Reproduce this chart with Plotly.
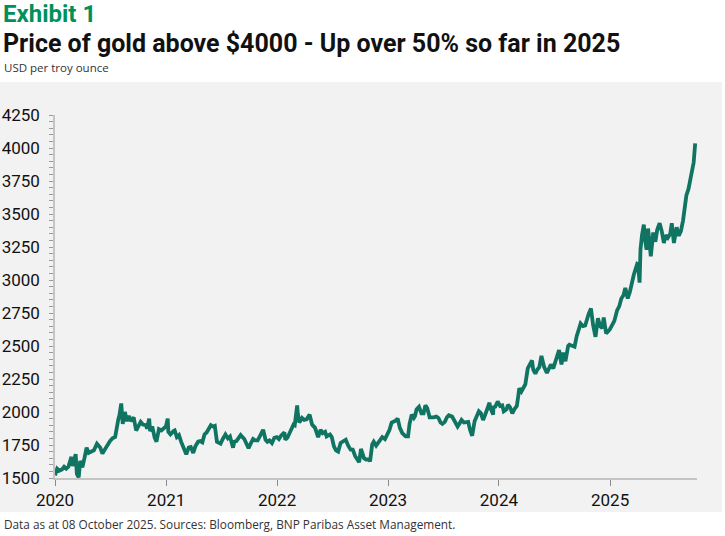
import plotly.graph_objects as go

dates = [
"2020-01-01","2020-01-08","2020-01-15","2020-01-24","2020-01-31","2020-02-07","2020-02-14","2020-02-24","2020-02-28",
"2020-03-06","2020-03-09","2020-03-13","2020-03-19","2020-03-24","2020-03-31","2020-04-07","2020-04-14","2020-04-21",
"2020-04-30","2020-05-08","2020-05-18","2020-05-29","2020-06-05","2020-06-15","2020-06-24","2020-06-30","2020-07-08",
"2020-07-17","2020-07-27","2020-07-31","2020-08-06","2020-08-11","2020-08-18","2020-08-25","2020-08-31","2020-09-08",
"2020-09-16","2020-09-24","2020-09-30","2020-10-09","2020-10-16","2020-10-26","2020-10-30","2020-11-06","2020-11-09",
"2020-11-16","2020-11-24","2020-11-30","2020-12-08","2020-12-16","2020-12-31",
"2021-01-06","2021-01-08","2021-01-15","2021-01-25","2021-01-29","2021-02-05","2021-02-12","2021-02-19","2021-02-26",
"2021-03-08","2021-03-16","2021-03-23","2021-03-31","2021-04-07","2021-04-16","2021-04-23","2021-04-30","2021-05-07",
"2021-05-14","2021-05-21","2021-05-28","2021-06-04","2021-06-10","2021-06-17","2021-06-29","2021-07-06","2021-07-15",
"2021-07-23","2021-07-30","2021-08-09","2021-08-13","2021-08-20","2021-08-27","2021-09-03","2021-09-15","2021-09-29",
"2021-10-06","2021-10-14","2021-10-21","2021-10-29","2021-11-05","2021-11-16","2021-11-24","2021-11-30","2021-12-07",
"2021-12-15","2021-12-23","2021-12-31",
"2022-01-07","2022-01-14","2022-01-25","2022-01-28","2022-02-04","2022-02-14","2022-02-24","2022-02-28","2022-03-08",
"2022-03-10","2022-03-15","2022-03-24","2022-03-31","2022-04-08","2022-04-18","2022-04-26","2022-04-29","2022-05-06",
"2022-05-16","2022-05-24","2022-05-31","2022-06-08","2022-06-13","2022-06-24","2022-06-30","2022-07-07","2022-07-14",
"2022-07-21","2022-07-29","2022-08-05","2022-08-15","2022-08-23","2022-08-31","2022-09-07","2022-09-15","2022-09-28",
"2022-10-04","2022-10-14","2022-10-21","2022-10-31","2022-11-03","2022-11-10","2022-11-15","2022-11-23","2022-11-30",
"2022-12-07","2022-12-13","2022-12-22","2022-12-30",
"2023-01-06","2023-01-13","2023-01-20","2023-01-26","2023-02-02","2023-02-09","2023-02-17","2023-02-28","2023-03-08",
"2023-03-13","2023-03-20","2023-03-27","2023-03-31","2023-04-05","2023-04-13","2023-04-21","2023-04-28","2023-05-04",
"2023-05-10","2023-05-18","2023-05-31","2023-06-09","2023-06-16","2023-06-23","2023-06-29","2023-07-07","2023-07-14",
"2023-07-20","2023-07-31","2023-08-08","2023-08-18","2023-08-25","2023-08-31","2023-09-08","2023-09-15","2023-09-22",
"2023-09-28","2023-10-05","2023-10-13","2023-10-20","2023-10-27","2023-11-03","2023-11-10","2023-11-17","2023-11-28",
"2023-12-01","2023-12-04","2023-12-13","2023-12-14","2023-12-20","2023-12-28",
"2024-01-05","2024-01-12","2024-01-17","2024-01-26","2024-01-31","2024-02-07","2024-02-14","2024-02-22","2024-02-29",
"2024-03-05","2024-03-08","2024-03-15","2024-03-21","2024-03-28","2024-04-05","2024-04-12","2024-04-19","2024-04-23",
"2024-04-30","2024-05-06","2024-05-13","2024-05-20","2024-05-29","2024-06-07","2024-06-14","2024-06-20","2024-06-28",
"2024-07-05","2024-07-17","2024-07-25","2024-07-31","2024-08-07","2024-08-16","2024-08-20","2024-08-30","2024-09-06",
"2024-09-13","2024-09-20","2024-09-26","2024-10-04","2024-10-11","2024-10-22","2024-10-30","2024-11-06","2024-11-14",
"2024-11-22","2024-11-29","2024-12-06","2024-12-11","2024-12-19","2024-12-31",
"2025-01-08","2025-01-15","2025-01-24","2025-01-31","2025-02-07","2025-02-14","2025-02-20","2025-02-28","2025-03-07",
"2025-03-14","2025-03-20","2025-03-31","2025-04-03","2025-04-08","2025-04-11","2025-04-16","2025-04-22","2025-04-25",
"2025-05-01","2025-05-06","2025-05-15","2025-05-23","2025-05-30","2025-06-05","2025-06-13","2025-06-20","2025-06-27",
"2025-07-03","2025-07-10","2025-07-18","2025-07-23","2025-07-30","2025-08-05","2025-08-08","2025-08-15","2025-08-22",
"2025-08-29","2025-09-03","2025-09-09","2025-09-16","2025-09-23","2025-09-30","2025-10-03","2025-10-08",
]

prices = [
1520,1570,1555,1565,1585,1570,1585,1660,1590,
1670,1680,1530,1505,1630,1580,1650,1730,1690,
1700,1710,1760,1730,1685,1725,1770,1780,1800,
1810,1940,1975,2065,1910,2000,1930,1970,1930,
1960,1860,1885,1925,1905,1900,1875,1950,1855,
1890,1805,1775,1870,1860,1890,
1950,1850,1830,1855,1860,1810,1825,1775,1735,
1680,1730,1735,1690,1740,1775,1780,1770,1830,
1845,1880,1900,1890,1895,1775,1760,1795,1830,
1800,1815,1730,1775,1780,1810,1825,1795,1725,
1760,1795,1785,1785,1815,1865,1790,1775,1785,
1765,1805,1810,
1795,1820,1845,1790,1805,1860,1905,1900,2050,
1990,1920,1955,1940,1945,1980,1905,1895,1880,
1810,1865,1840,1850,1815,1830,1810,1740,1710,
1700,1765,1775,1790,1745,1715,1715,1665,1620,
1720,1650,1640,1640,1625,1755,1775,1745,1770,
1785,1810,1795,1825,
1865,1920,1925,1935,1950,1880,1840,1815,1815,
1910,1980,1955,1970,2020,2040,1990,1990,2050,
2030,1960,1960,1965,1955,1920,1910,1925,1960,
1975,1965,1930,1890,1915,1940,1920,1925,1925,
1865,1820,1930,1975,2005,1990,1940,1980,2040,
2070,2030,1980,2035,2040,2080,
2045,2050,2005,2020,2055,2035,1990,2025,2045,
2125,2180,2155,2185,2210,2330,2360,2390,2320,
2290,2320,2340,2425,2340,2295,2330,2360,2330,
2390,2470,2360,2450,2385,2500,2510,2500,2495,
2575,2620,2670,2650,2655,2740,2785,2660,2570,
2710,2650,2635,2715,2595,2625,
2660,2690,2770,2800,2860,2885,2940,2860,2910,
2985,3040,3120,3115,2980,3230,3340,3420,3320,
3230,3390,3180,3360,3290,3380,3430,3370,3280,
3340,3320,3350,3430,3280,3380,3400,3335,3370,
3450,3560,3640,3690,3760,3840,3890,4035,
]

y_ticks = [1500, 1750, 2000, 2250, 2500, 2750, 3000, 3250, 3500, 3750, 4000, 4250]
x_ticks = ["2020-01-01", "2021-01-01", "2022-01-01", "2023-01-01", "2024-01-01", "2025-01-01"]
x_labels = ["2020", "2021", "2022", "2023", "2024", "2025"]

W, H = 725, 536
ML, MR, MT, MB = 55, 28, 115, 58
PW, PH = W - ML - MR, H - MT - MB

def px(xpix):
    return (xpix - ML) / PW

def py(ypix):
    return (H - MB - ypix) / PH

BG = "#f2f2f2"

fig = go.Figure()
fig.add_trace(go.Scatter(
    x=dates, y=prices, mode="lines",
    line=dict(color="#0f7462", width=3.8),
    hoverinfo="skip", showlegend=False,
))

fig.add_shape(type="rect", xref="paper", yref="paper",
              x0=px(0), x1=px(722), y0=py(512), y1=py(82),
              fillcolor=BG, line=dict(width=0), layer="below")

fig.add_annotation(text="<b>Exhibit 1</b>", xref="paper", yref="paper",
                   x=px(1), y=py(14), xanchor="left", yanchor="middle",
                   showarrow=False, font=dict(family="Roboto", size=24, color="#00915a"))
fig.add_annotation(text="<b>Price of gold above $4000 - Up over 50% so far in 2025</b>",
                   xref="paper", yref="paper",
                   x=px(1), y=py(44), xanchor="left", yanchor="middle",
                   showarrow=False, font=dict(family="Roboto", size=25, color="#111111"))
fig.add_annotation(text="USD per troy ounce", xref="paper", yref="paper",
                   x=px(2), y=py(67), xanchor="left", yanchor="middle",
                   showarrow=False, font=dict(family="Open Sans", size=11.5, color="#333333"))
fig.add_annotation(text="Data as at 08 October 2025. Sources: Bloomberg, BNP Paribas Asset Management.",
                   xref="paper", yref="paper",
                   x=px(2), y=py(524), xanchor="left", yanchor="middle",
                   showarrow=False, font=dict(family="Open Sans", size=11.8, color="#333333"))

fig.update_layout(
    width=W, height=H,
    margin=dict(l=ML, r=MR, t=MT, b=MB, pad=0, autoexpand=False),
    paper_bgcolor="white", plot_bgcolor=BG,
    font=dict(family="Roboto", color="#111111"),
    xaxis=dict(
        type="date", range=["2020-01-01", "2025-10-14"],
        tickvals=x_ticks, ticktext=x_labels, automargin=False,
        showgrid=False, zeroline=False,
        showline=True, linecolor="#c4c4c4", linewidth=2,
        ticks="outside", ticklen=6, tickcolor="#8a8a8a", tickwidth=1,
        tickfont=dict(family="Roboto", size=17, color="#111111"),
    ),
    yaxis=dict(
        range=[1500, 4250], tickvals=y_ticks, automargin=False,
        showgrid=False, zeroline=False,
        showline=True, linecolor="#c4c4c4", linewidth=1.5,
        ticks="outside", ticklen=4, tickcolor="#9a9a9a", tickwidth=1,
        minor=dict(dtick=50, ticks="outside", ticklen=4, tickcolor="#9a9a9a", showgrid=False),
        tickfont=dict(family="Roboto", size=17, color="#111111"),
        ticklabelstandoff=6,
    ),
)

fig.write_html("out.html", config={"displayModeBar": False},
               post_script="document.body.style.margin='0';document.body.style.overflow='hidden';")
